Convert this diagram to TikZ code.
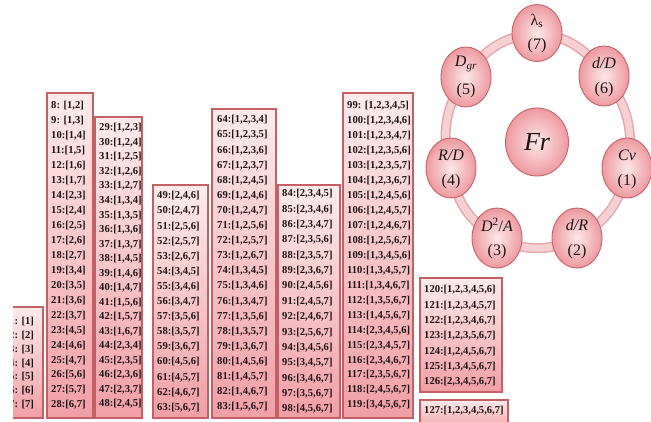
\documentclass[tikz,border=0pt]{standalone}
\usepackage{fontspec}
\setmainfont{Liberation Serif}
\usetikzlibrary{shapes.geometric}

\definecolor{boxtop}{HTML}{FDEBEC}
\definecolor{boxbot}{HTML}{F19FA5}
\definecolor{boxline}{HTML}{C45F66}
\definecolor{ovin}{HTML}{FDE8E8}
\definecolor{ovout}{HTML}{EE9AA0}
\definecolor{ovline}{HTML}{C2646A}
\definecolor{ringout}{HTML}{E4A6AA}
\definecolor{ringin}{HTML}{F6D0D2}
\definecolor{txt}{HTML}{1E1212}

% one column of index cells: name, x, first y, pitch, list of entries
\newcommand{\cellcolumn}[5]{%
  \foreach \t [count=\k from 0] in {#5} {%
    \node[cell] (#1-\k) at (#2, #3+\k*#4) {\t};
  }%
}

\begin{document}
\begin{tikzpicture}[x=1pt,y=-1pt,
  colbox/.style={draw=boxline, line width=1.2pt, top color=boxtop, bottom color=boxbot},
  cell/.style={anchor=west, inner sep=0pt, font=\fontsize{10.6}{12}\selectfont\bfseries, text=txt},
  oval/.style={ellipse, draw=ovline, line width=0.9pt, inner color=ovin, outer color=ovout,
    minimum width=50pt, minimum height=60pt, inner sep=0pt},
  lab/.style={inner sep=0pt, font=\fontsize{16}{18}\selectfont, text=txt},
  ringa/.style={draw=ringout, line width=10pt},
  ringb/.style={draw=ringin, line width=7pt}]

\useasboundingbox (0,0) rectangle (651,421);

% ---- columns of factor combinations ----
\begin{scope}
  \clip (13,0) rectangle (651,421);
  \path[colbox] (-20,307) rectangle (43,418);
  \cellcolumn{a}{9}{322}{13.7}{{1: [1]},{2: [2]},{3: [3]},{4: [4]},{5: [5]},{6: [6]},{7: [7]}}
\end{scope}

\path[colbox] (47,93) rectangle (93,418);
\cellcolumn{b}{51}{106}{14.95}{{8: [1,2]},{9: [1,3]},{10:[1,4]},{11:[1,5]},{12:[1,6]},{13:[1,7]},{14:[2,3]},{15:[2,4]},{16:[2,5]},{17:[2,6]},{18:[2,7]},{19:[3,4]},{20:[3,5]},{21:[3,6]},{22:[3,7]},{23:[4,5]},{24:[4,6]},{25:[4,7]},{26:[5,6]},{27:[5,7]},{28:[6,7]}}

\path[colbox] (95,117) rectangle (142,418);
\cellcolumn{c}{99}{128}{14.53}{{29:[1,2,3]},{30:[1,2,4]},{31:[1,2,5]},{32:[1,2,6]},{33:[1,2,7]},{34:[1,3,4]},{35:[1,3,5]},{36:[1,3,6]},{37:[1,3,7]},{38:[1,4,5]},{39:[1,4,6]},{40:[1,4,7]},{41:[1,5,6]},{42:[1,5,7]},{43:[1,6,7]},{44:[2,3,4]},{45:[2,3,5]},{46:[2,3,6]},{47:[2,3,7]},{48:[2,4,5]}}

\path[colbox] (153,185) rectangle (208,418);
\cellcolumn{d}{157}{196}{15.1}{{49:[2,4,6]},{50:[2,4,7]},{51:[2,5,6]},{52:[2,5,7]},{53:[2,6,7]},{54:[3,4,5]},{55:[3,4,6]},{56:[3,4,7]},{57:[3,5,6]},{58:[3,5,7]},{59:[3,6,7]},{60:[4,5,6]},{61:[4,5,7]},{62:[4,6,7]},{63:[5,6,7]}}

\path[colbox] (212,109) rectangle (276,418);
\cellcolumn{e}{217}{120}{15.1}{{64:[1,2,3,4]},{65:[1,2,3,5]},{66:[1,2,3,6]},{67:[1,2,3,7]},{68:[1,2,4,5]},{69:[1,2,4,6]},{70:[1,2,4,7]},{71:[1,2,5,6]},{72:[1,2,5,7]},{73:[1,2,6,7]},{74:[1,3,4,5]},{75:[1,3,4,6]},{76:[1,3,4,7]},{77:[1,3,5,6]},{78:[1,3,5,7]},{79:[1,3,6,7]},{80:[1,4,5,6]},{81:[1,4,5,7]},{82:[1,4,6,7]},{83:[1,5,6,7]}}

\path[colbox] (278,185) rectangle (340,418);
\cellcolumn{f}{282}{194}{15.35}{{84:[2,3,4,5]},{85:[2,3,4,6]},{86:[2,3,4,7]},{87:[2,3,5,6]},{88:[2,3,5,7]},{89:[2,3,6,7]},{90:[2,4,5,6]},{91:[2,4,5,7]},{92:[2,4,6,7]},{93:[2,5,6,7]},{94:[3,4,5,6]},{95:[3,4,5,7]},{96:[3,4,6,7]},{97:[3,5,6,7]},{98:[4,5,6,7]}}

\path[colbox] (343,93) rectangle (413,418);
\cellcolumn{g}{347}{106}{14.95}{{99: [1,2,3,4,5]},{100:[1,2,3,4,6]},{101:[1,2,3,4,7]},{102:[1,2,3,5,6]},{103:[1,2,3,5,7]},{104:[1,2,3,6,7]},{105:[1,2,4,5,6]},{106:[1,2,4,5,7]},{107:[1,2,4,6,7]},{108:[1,2,5,6,7]},{109:[1,3,4,5,6]},{110:[1,3,4,5,7]},{111:[1,3,4,6,7]},{112:[1,3,5,6,7]},{113:[1,4,5,6,7]},{114:[2,3,4,5,6]},{115:[2,3,4,5,7]},{116:[2,3,4,6,7]},{117:[2,3,5,6,7]},{118:[2,4,5,6,7]},{119:[3,4,5,6,7]}}

\path[colbox] (420,278) rectangle (502,392);
\cellcolumn{h}{424}{290}{15.3}{{120:[1,2,3,4,5,6]},{121:[1,2,3,4,5,7]},{122:[1,2,3,4,6,7]},{123:[1,2,3,5,6,7]},{124:[1,2,4,5,6,7]},{125:[1,3,4,5,6,7]},{126:[2,3,4,5,6,7]}}

\path[colbox] (420,400) rectangle (508,430);
\node[cell] (i-0) at (424,411) {127:[1,2,3,4,5,6,7]};

% ---- ring of the seven factors around Fr ----
\coordinate (p7) at (537,33);
\coordinate (p6) at (604,76);
\coordinate (p1) at (627,168);
\coordinate (p2) at (577,238);
\coordinate (p3) at (497,238);
\coordinate (p4) at (451,168);
\coordinate (p5) at (466,77);

\foreach \u/\v in {p7/p6,p6/p1,p1/p2,p2/p3,p3/p4,p4/p5,p5/p7} {
  \draw[ringa] (\u) to[bend left=26] (\v);
}
\foreach \u/\v in {p7/p6,p6/p1,p1/p2,p2/p3,p3/p4,p4/p5,p5/p7} {
  \draw[ringb] (\u) to[bend left=26] (\v);
}

\node[oval, minimum width=50pt, minimum height=57pt] (n7) at (p7) {};
\node[oval] (n6) at (p6) {};
\node[oval] (n1) at (p1) {};
\node[oval] (n2) at (p2) {};
\node[oval] (n3) at (p3) {};
\node[oval] (n4) at (p4) {};
\node[oval] (n5) at (p5) {};
\node[oval, minimum width=63pt, minimum height=68pt] (fr) at (537,142) {};

\node[lab] (t7) at (537,21) {λ\textsubscript{s}};
\node[lab] (u7) at (537,46) {(7)};
\node[lab] (t6) at (604,63) {\itshape d/D};
\node[lab] (u6) at (604,90) {(6)};
\node[lab] (t1) at (627,155) {\itshape Cv};
\node[lab] (u1) at (627,182) {(1)};
\node[lab] (t2) at (577,225) {\itshape d/R};
\node[lab] (u2) at (577,252) {(2)};
\node[lab] (t3) at (497,225) {\textit{D}\textsuperscript{2}/\textit{A}};
\node[lab] (u3) at (497,252) {(3)};
\node[lab] (t4) at (451,155) {\itshape R/D};
\node[lab] (u4) at (451,182) {(4)};
\node[lab] (t5) at (466,64) {\textit{D}\textsubscript{\itshape gr}};
\node[lab] (u5) at (466,91) {(5)};
\node[lab, font=\fontsize{26}{28}\selectfont\itshape] (tf) at (537,142) {Fr};

\end{tikzpicture}
\end{document}
